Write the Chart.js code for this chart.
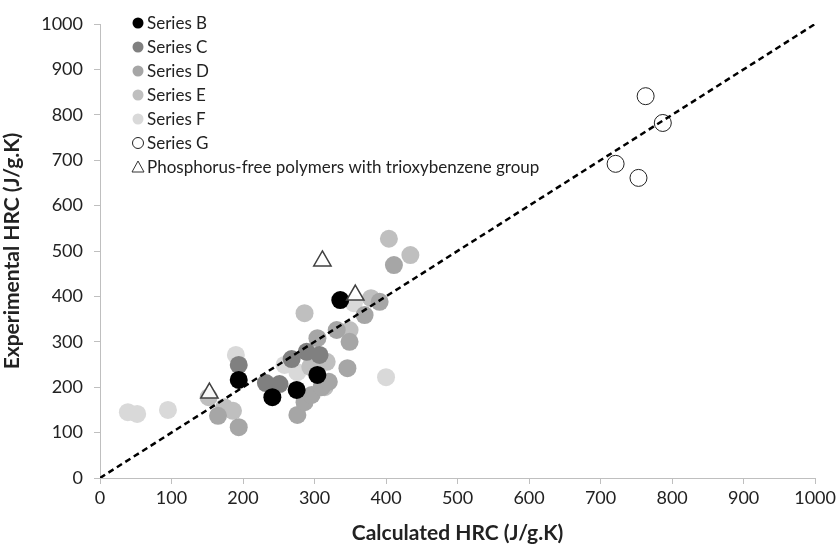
<!DOCTYPE html>
<html>
<head>
<meta charset="utf-8">
<script src="https://cdn.jsdelivr.net/npm/chart.js@4"></script>
<style>
html,body{margin:0;padding:0;background:#fff;}
#wrap{width:839px;height:546px;position:relative;}
</style>
</head>
<body>
<div id="wrap"><canvas id="c" width="839" height="546"></canvas></div>
<script>
// ---- data (calculated HRC, experimental HRC) ----
const seriesNames = ["Series B","Series C","Series D","Series E","Series F","Series G","Phosphorus-free polymers with trioxybenzene group"];
const seriesB_x = [194, 241, 275, 304, 336];
const seriesB_y = [216, 178, 194, 227, 392];
const seriesC_x = [194, 232, 251, 268, 289, 307];
const seriesC_y = [249, 209, 207, 262, 278, 271];
const seriesD_x = [411, 391, 370, 331, 349, 304, 346, 194, 165, 276, 286, 296, 310, 320];
const seriesD_y = [469, 388, 359, 326, 300, 308, 242, 112, 137, 139, 167, 183, 200, 212];
const seriesE_x = [404, 434, 286, 379, 349, 152, 174, 186, 317, 314, 294];
const seriesE_y = [527, 491, 363, 396, 326, 178, 156, 148, 256, 200, 245];
const seriesF_x = [39, 52, 95, 190, 400, 258, 276, 355];
const seriesF_y = [145, 141, 150, 271, 222, 249, 233, 385];
const seriesG_x = [763, 787, 721, 753];
const seriesG_y = [841, 782, 692, 661];
const triangle_x = [153, 311, 357];
const triangle_y = [187, 478, 403];
const diagonal_x = [0, 1000];
const diagonal_y = [0, 1000];
const xTicks = [0,100,200,300,400,500,600,700,800,900,1000];
const yTicks = [0,100,200,300,400,500,600,700,800,900,1000];

const pts = (xs, ys) => xs.map((x, i) => ({x: x, y: ys[i]}));
const FONT = "Lato, 'Open Sans', sans-serif";

const datasets = [
  {type:'line', label:'y=x', data: pts(diagonal_x, diagonal_y), borderColor:'#000', borderWidth:2.5,
   borderDash:[6,4], pointRadius:0, fill:false, showLine:true},
  {label: seriesNames[5], data: pts(seriesG_x, seriesG_y), backgroundColor:'#fff', borderColor:'#222', borderWidth:1, pointRadius:8.5, pointStyle:'circle'},
  {label: seriesNames[6], data: pts(triangle_x, triangle_y), backgroundColor:'rgba(255,255,255,0.85)', borderColor:'#404040', borderWidth:1.5, pointRadius:10, pointStyle:'triangle'},
  {label: seriesNames[0], data: pts(seriesB_x, seriesB_y), backgroundColor:'#000', borderColor:'#000', borderWidth:0, pointRadius:9},
  {label: seriesNames[1], data: pts(seriesC_x, seriesC_y), backgroundColor:'#808080', borderColor:'#808080', borderWidth:0, pointRadius:9},
  {label: seriesNames[2], data: pts(seriesD_x, seriesD_y), backgroundColor:'#a6a6a6', borderColor:'#a6a6a6', borderWidth:0, pointRadius:9},
  {label: seriesNames[3], data: pts(seriesE_x, seriesE_y), backgroundColor:'#bfbfbf', borderColor:'#bfbfbf', borderWidth:0, pointRadius:9},
  {label: seriesNames[4], data: pts(seriesF_x, seriesF_y), backgroundColor:'#d9d9d9', borderColor:'#d9d9d9', borderWidth:0, pointRadius:9}
];

// custom in-plot legend
const legendPlugin = {
  id: 'innerLegend',
  afterDraw(chart) {
    const ctx = chart.ctx;
    const items = [
      {name: seriesNames[0], fill:'#000', stroke:null, shape:'circle'},
      {name: seriesNames[1], fill:'#808080', stroke:null, shape:'circle'},
      {name: seriesNames[2], fill:'#a6a6a6', stroke:null, shape:'circle'},
      {name: seriesNames[3], fill:'#bfbfbf', stroke:null, shape:'circle'},
      {name: seriesNames[4], fill:'#d9d9d9', stroke:null, shape:'circle'},
      {name: seriesNames[5], fill:'#fff', stroke:'#222', shape:'circle'},
      {name: seriesNames[6], fill:'#fff', stroke:'#333', shape:'triangle'}
    ];
    const rowY = [23, 47, 71, 95, 119, 143, 167];
    ctx.save();
    ctx.font = "17px " + FONT;
    ctx.textBaseline = 'middle';
    items.forEach((it, i) => {
      const y = rowY[i], x = 138;
      ctx.beginPath();
      if (it.shape === 'circle') {
        ctx.arc(x, y, 5.5, 0, Math.PI*2);
      } else {
        ctx.moveTo(x, y-6); ctx.lineTo(x+6, y+5); ctx.lineTo(x-6, y+5); ctx.closePath();
      }
      ctx.fillStyle = it.fill; ctx.fill();
      if (it.stroke) { ctx.lineWidth = 1; ctx.strokeStyle = it.stroke; ctx.stroke(); }
      ctx.fillStyle = '#222';
      ctx.fillText(it.name, 147, y + 1);
    });
    ctx.restore();
  }
};

new Chart(document.getElementById('c'), {
  type: 'scatter',
  data: { datasets },
  plugins: [legendPlugin],
  options: {
    responsive: false,
    animation: false,
    layout: { padding: { top: 24, right: 22, left: 0, bottom: 0 } },
    plugins: { legend: { display: false }, tooltip: { enabled: false } },
    scales: {
      x: {
        type: 'linear', min: 0, max: 1000,
        afterBuildTicks: s => { s.ticks = xTicks.map(v => ({value: v})); },
        afterFit: s => { s.height = 68; },
        grid: { drawOnChartArea: false, drawTicks: true, tickLength: 6, color: '#bfbfbf' },
        border: { color: '#bfbfbf', width: 1 },
        ticks: { color: '#222', font: { family: FONT, size: 18 }, padding: 3, maxRotation: 0, callback: v => String(v) },
        title: { display: true, text: 'Calculated HRC (J/g.K)', color: '#222', font: { family: FONT, size: 21, weight: 'bold' }, padding: { top: 4, bottom: 0 } }
      },
      y: {
        type: 'linear', min: 0, max: 1000,
        afterBuildTicks: s => { s.ticks = yTicks.map(v => ({value: v})); },
        afterFit: s => { s.width = 100; },
        grid: { drawOnChartArea: false, drawTicks: true, tickLength: 6, color: '#bfbfbf' },
        border: { color: '#bfbfbf', width: 1 },
        ticks: { color: '#222', font: { family: FONT, size: 18 }, padding: 11, callback: v => String(v) },
        title: { display: true, text: 'Experimental HRC (J/g.K)', color: '#222', font: { family: FONT, size: 21, weight: 'bold' }, padding: { top: 0, bottom: 0 } }
      }
    }
  }
});
</script>
</body>
</html>
